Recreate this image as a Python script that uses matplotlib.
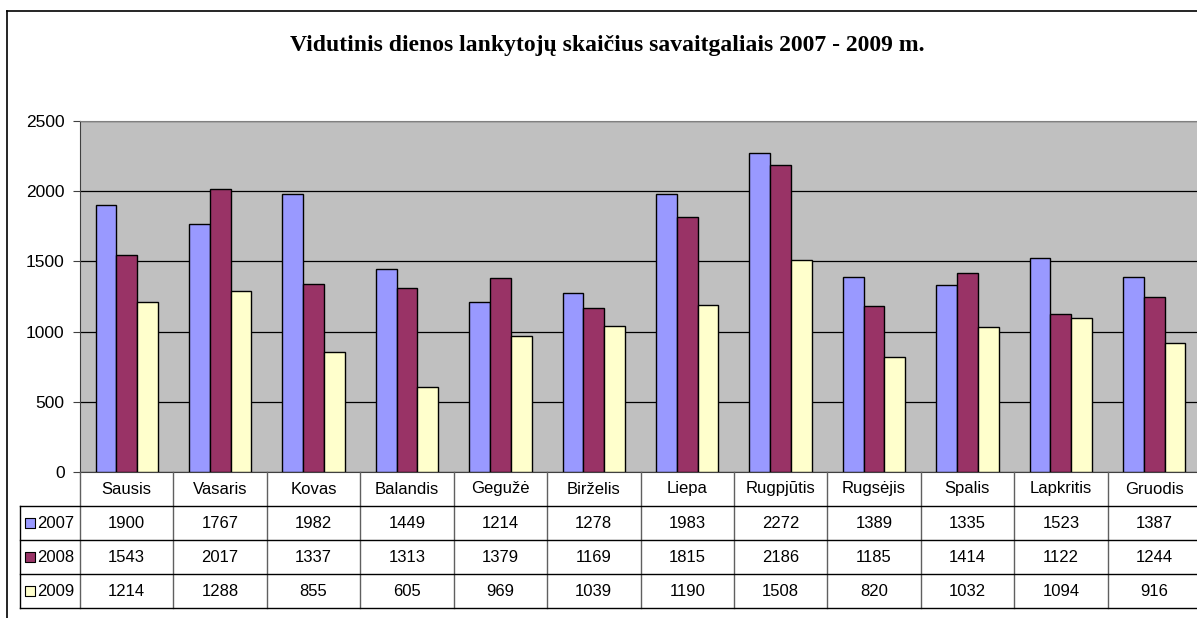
import matplotlib.pyplot as plt
import numpy as np
from matplotlib.lines import Line2D

months = ['Sausis', 'Vasaris', 'Kovas', 'Balandis', 'Gegužė', 'Birželis',
          'Liepa', 'Rugpjūtis', 'Rugsėjis', 'Spalis', 'Lapkritis', 'Gruodis']
years = ['2007', '2008', '2009']
v2007 = [1900, 1767, 1982, 1449, 1214, 1278, 1983, 2272, 1389, 1335, 1523, 1387]
v2008 = [1543, 2017, 1337, 1313, 1379, 1169, 1815, 2186, 1185, 1414, 1122, 1244]
v2009 = [1214, 1288, 855, 605, 969, 1039, 1190, 1508, 820, 1032, 1094, 916]
series = [v2007, v2008, v2009]
colors = ['#9999FF', '#993366', '#FFFFCC']
title = 'Vidutinis dienos lankytojų skaičius savaitgaliais 2007 - 2009 m.'

W, H = 1197, 618
fig = plt.figure(figsize=(W / 100, H / 100), dpi=100)
fig.patch.set_facecolor('white')

def box(l, t, r, b):
    return [l / W, 1 - b / H, (r - l) / W, (b - t) / H]

# outer chart border (only left and top visible, chart is cut off)
fig.add_artist(Line2D([7 / W, 7 / W], [0, 1 - 11 / H], color='black', lw=1.2))
fig.add_artist(Line2D([7 / W, 1.0], [1 - 11 / H, 1 - 11 / H], color='black', lw=1.2))

fig.text(607 / W, 1 - 46 / H, title, ha='center', va='center',
         family='Liberation Serif', fontweight='bold', fontsize=17)

ax = fig.add_axes(box(80, 121, 1201, 472))
ax.set_facecolor('#C0C0C0')
x = np.arange(len(months))
w = 1 / 4.5
for i, (vals, c) in enumerate(zip(series, colors)):
    ax.bar(x + (i - 1) * w, vals, w, color=c, edgecolor='black', linewidth=1, zorder=3)

ax.set_xlim(-0.5, 11.5)
ax.set_ylim(0, 2500)
ax.set_yticks(np.arange(0, 2501, 500))
ax.yaxis.grid(True, color='black', linewidth=0.9, zorder=0)
ax.set_xticks([])
ax.spines['right'].set_visible(False)
ax.spines['top'].set_color('#808080')
ax.spines['left'].set_color('#404040')
ax.spines['bottom'].set_color('#404040')
ax.tick_params(axis='y', length=5, color='#404040', labelsize=12.5, pad=6)
for lab in ax.get_yticklabels():
    lab.set_family('Liberation Sans')

# data table
tab = fig.add_axes(box(80, 472, 1201, 608))
tab.set_xlim(-0.5, 11.5)
tab.set_ylim(4, 0)
tab.axis('off')
lab_w = 0.64
for k in range(len(months) + 1):
    tab.plot([k - 0.5, k - 0.5], [0, 4], color='#606060', lw=1, clip_on=False)
tab.plot([-0.5 - lab_w, -0.5 - lab_w], [1, 4], color='black', lw=1, clip_on=False)
for r in range(1, 5):
    tab.plot([-0.5 - lab_w, 11.5], [r, r], color='black', lw=1, clip_on=False)

for j, m in enumerate(months):
    tab.text(j, 0.5, m, ha='center', va='center', fontsize=12, family='Liberation Sans')
for i, (vals, c, yr) in enumerate(zip(series, colors, years)):
    for j, v in enumerate(vals):
        tab.text(j, i + 1.5, str(v), ha='center', va='center', fontsize=12,
                 family='Liberation Sans')
    tab.scatter([-0.5 - lab_w + 0.1], [i + 1.5], marker='s', s=55, color=c,
                edgecolor='black', linewidth=0.8, clip_on=False)
    tab.text(-0.5 - lab_w + 0.18, i + 1.5, yr, ha='left', va='center', fontsize=12,
             family='Liberation Sans')

fig.savefig('out.png', dpi=100)
